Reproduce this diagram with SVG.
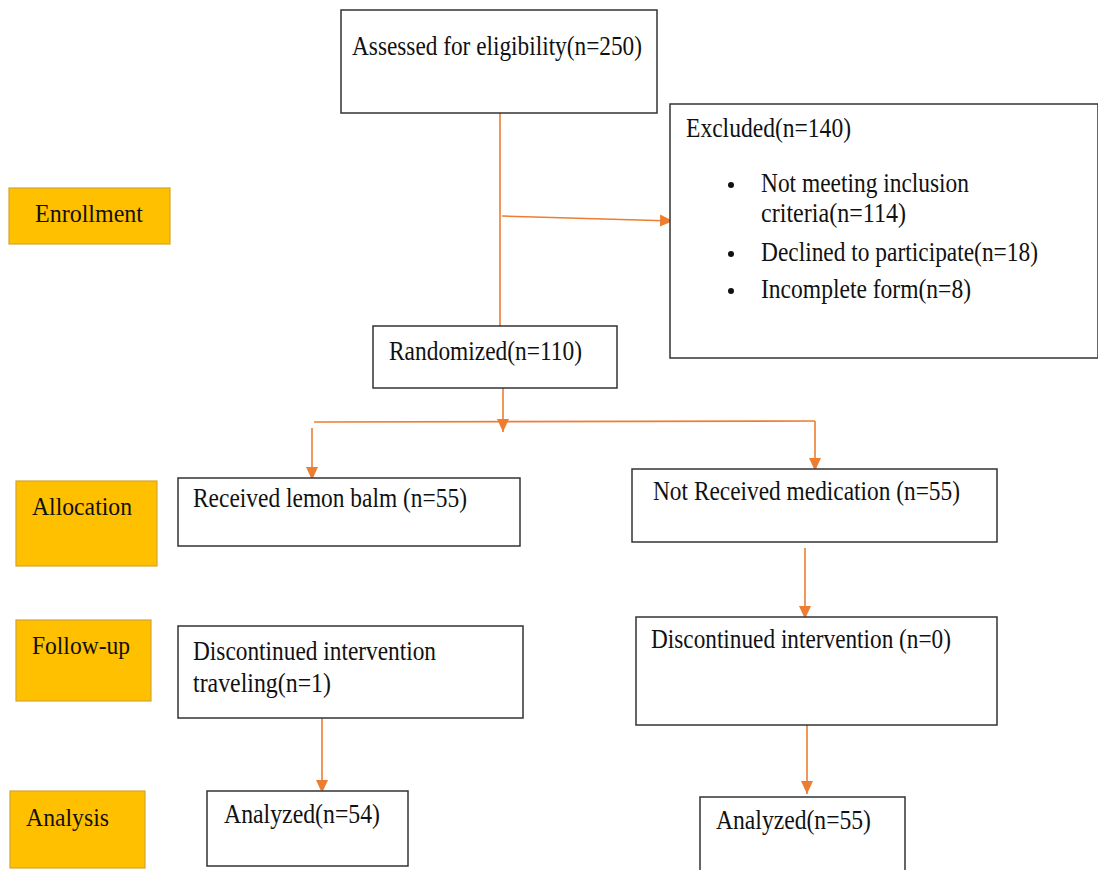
<svg xmlns="http://www.w3.org/2000/svg" width="1098" height="870" viewBox="0 0 1098 870">
<style>
.box{fill:#ffffff;stroke:#333333;stroke-width:1.5}
.lab{fill:#FFC000;stroke:#D4A52A;stroke-width:1.2}
.t{font-family:"Liberation Serif","Times New Roman",serif;font-size:27px;fill:#111111}
.lt{font-family:"Liberation Serif","Times New Roman",serif;font-size:26px;fill:#111111}
.c{stroke:#ED7D31;stroke-width:1.6;fill:none}
</style>
<defs>
<marker id="ah" markerUnits="userSpaceOnUse" markerWidth="14" markerHeight="14" viewBox="0 0 14 14" refX="13" refY="7" orient="auto">
<path d="M0,1 L13,7 L0,13 Z" fill="#ED7D31"/>
</marker>
</defs>
<rect width="1098" height="870" fill="#ffffff"/>

<g id="label-enrollment">
<rect class="lab" x="9" y="188" width="161" height="56"/>
<text class="lt" x="35" y="222" textLength="108" lengthAdjust="spacingAndGlyphs">Enrollment</text>
</g>
<g id="label-allocation">
<rect class="lab" x="16" y="481" width="141" height="85"/>
<text class="lt" x="32" y="515" textLength="100" lengthAdjust="spacingAndGlyphs">Allocation</text>
</g>
<g id="label-followup">
<rect class="lab" x="16" y="620" width="135" height="81"/>
<text class="lt" x="32" y="654" textLength="98" lengthAdjust="spacingAndGlyphs">Follow-up</text>
</g>
<g id="label-analysis">
<rect class="lab" x="10" y="791" width="135" height="77"/>
<text class="lt" x="26" y="826" textLength="83" lengthAdjust="spacingAndGlyphs">Analysis</text>
</g>

<g id="connectors">
<line class="c" x1="500" y1="113" x2="500" y2="326"/>
<line class="c" x1="502" y1="216" x2="673" y2="221" marker-end="url(#ah)"/>
<line class="c" x1="503" y1="388" x2="503" y2="432" marker-end="url(#ah)"/>
<line class="c" x1="314" y1="422" x2="815" y2="421"/>
<line class="c" x1="312" y1="428" x2="312" y2="480" marker-end="url(#ah)"/>
<line class="c" x1="815" y1="421" x2="815" y2="471" marker-end="url(#ah)"/>
<line class="c" x1="805" y1="548" x2="805" y2="619" marker-end="url(#ah)"/>
<line class="c" x1="807" y1="725" x2="807" y2="794" marker-end="url(#ah)"/>
<line class="c" x1="322" y1="718" x2="322" y2="793" marker-end="url(#ah)"/>
</g>

<g id="node-assessed">
<rect class="box" x="341" y="10" width="316" height="103"/>
<text class="t" x="352" y="55" textLength="290" lengthAdjust="spacingAndGlyphs">Assessed for eligibility(n=250)</text>
</g>

<g id="node-excluded">
<rect class="box" x="670" y="104" width="428" height="254"/>
<text class="t" x="686" y="137" textLength="165" lengthAdjust="spacingAndGlyphs">Excluded(n=140)</text>
<circle cx="731" cy="185" r="3" fill="#111"/>
<text class="t" x="761" y="192" textLength="208" lengthAdjust="spacingAndGlyphs">Not meeting inclusion</text>
<text class="t" x="761" y="222" textLength="145" lengthAdjust="spacingAndGlyphs">criteria(n=114)</text>
<circle cx="731" cy="254" r="3" fill="#111"/>
<text class="t" x="761" y="261" textLength="277" lengthAdjust="spacingAndGlyphs">Declined to participate(n=18)</text>
<circle cx="731" cy="291" r="3" fill="#111"/>
<text class="t" x="761" y="298" textLength="210" lengthAdjust="spacingAndGlyphs">Incomplete form(n=8)</text>
</g>

<g id="node-randomized">
<rect class="box" x="373" y="326" width="244" height="62"/>
<text class="t" x="389" y="360" textLength="193" lengthAdjust="spacingAndGlyphs">Randomized(n=110)</text>
</g>

<g id="node-lemon">
<rect class="box" x="178" y="478" width="342" height="68"/>
<text class="t" x="193" y="507" textLength="274" lengthAdjust="spacingAndGlyphs">Received lemon balm (n=55)</text>
</g>

<g id="node-notreceived">
<rect class="box" x="632" y="469" width="365" height="73"/>
<text class="t" x="653" y="500" textLength="307" lengthAdjust="spacingAndGlyphs">Not Received medication (n=55)</text>
</g>

<g id="node-disc-left">
<rect class="box" x="178" y="626" width="345" height="92"/>
<text class="t" x="193" y="660" textLength="243" lengthAdjust="spacingAndGlyphs">Discontinued intervention</text>
<text class="t" x="193" y="692" textLength="138" lengthAdjust="spacingAndGlyphs">traveling(n=1)</text>
</g>

<g id="node-disc-right">
<rect class="box" x="636" y="617" width="361" height="108"/>
<text class="t" x="651" y="648" textLength="300" lengthAdjust="spacingAndGlyphs">Discontinued intervention (n=0)</text>
</g>

<g id="node-analyzed-left">
<rect class="box" x="207" y="791" width="201" height="75"/>
<text class="t" x="224" y="823" textLength="156" lengthAdjust="spacingAndGlyphs">Analyzed(n=54)</text>
</g>

<g id="node-analyzed-right">
<rect class="box" x="700" y="797" width="205" height="80"/>
<text class="t" x="716" y="829" textLength="155" lengthAdjust="spacingAndGlyphs">Analyzed(n=55)</text>
</g>
</svg>
